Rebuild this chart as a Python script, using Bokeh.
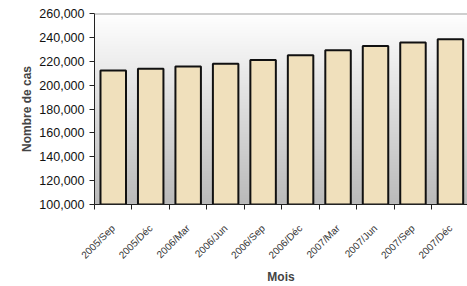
import numpy as np
from bokeh.plotting import figure
from bokeh.models import Range1d, FixedTicker, NumeralTickFormatter, ColumnDataSource, Span
from bokeh.embed import file_html
from bokeh.resources import INLINE

months = ["2005/Sep", "2005/Déc", "2006/Mar", "2006/Jun", "2006/Sep",
          "2006/Déc", "2007/Mar", "2007/Jun", "2007/Sep", "2007/Déc"]
cases = [212300, 213700, 215600, 218000, 221000,
         225000, 229300, 232800, 235800, 238400]
y_ticks = [100000, 120000, 140000, 160000, 180000, 200000, 220000, 240000, 260000]

y_min, y_max = 100000, 260000
n = len(months)
xpos = [i + 0.5 for i in range(n)]

p = figure(width=467, height=286, output_backend="svg", toolbar_location=None,
           x_range=Range1d(0, n - 0.045), y_range=Range1d(y_min, y_max),
           min_border_left=94, min_border_top=13, min_border_right=0, min_border_bottom=74)
p.outline_line_color = None
p.background_fill_color = "white"
p.border_fill_color = "white"
p.xgrid.visible = False
p.ygrid.visible = False

# vertical gradient background (white -> grey)
H = 200
t = np.linspace(0, 1, H)[:, None]  # bottom row first
top = np.array([255, 255, 255])
bot = np.array([186, 186, 186])
cols = (bot + (top - bot) * t).astype(np.uint32)
img = np.empty((H, 1), dtype=np.uint32)
view = img.view(dtype=np.uint8).reshape((H, 1, 4))
view[:, 0, 0] = cols[:, 0]
view[:, 0, 1] = cols[:, 1]
view[:, 0, 2] = cols[:, 2]
view[:, 0, 3] = 255
p.image_rgba(image=[img], x=0, y=y_min, dw=n, dh=y_max - y_min, level="image")

p.add_layout(Span(location=y_max, dimension="width", line_color="#a0a0a0", line_width=2))

src = ColumnDataSource(dict(x=xpos, top=cases))
p.vbar(x="x", top="top", bottom=y_min, width=0.68, source=src,
       fill_color="#f0e0bc", line_color="#111111", line_width=2)

# x axis
p.xaxis.ticker = FixedTicker(ticks=xpos, minor_ticks=list(range(0, n + 1)))
p.xaxis.major_label_overrides = {x: m for x, m in zip(xpos, months)}
p.xaxis.major_tick_line_color = None
p.xaxis.minor_tick_in = 0
p.xaxis.minor_tick_out = 5
p.xaxis.minor_tick_line_color = "#222222"
p.xaxis.axis_line_color = "#222222"
p.xaxis.axis_line_width = 1
p.xaxis.major_label_orientation = np.pi / 4
p.xaxis.major_label_text_font = "Liberation Sans"
p.xaxis.major_label_text_font_size = "10px"
p.xaxis.major_label_text_color = "#333333"
p.xaxis.major_label_standoff = 16
p.xaxis.axis_label = "Mois"
p.xaxis.axis_label_text_font = "Liberation Sans"
p.xaxis.axis_label_text_font_style = "bold"
p.xaxis.axis_label_text_font_size = "12px"
p.xaxis.axis_label_standoff = 2

# y axis
p.yaxis.ticker = FixedTicker(ticks=y_ticks, minor_ticks=[])
p.yaxis.formatter = NumeralTickFormatter(format="0,0")
p.yaxis.major_tick_in = 0
p.yaxis.major_tick_out = 5
p.yaxis.major_tick_line_color = "#222222"
p.yaxis.axis_line_color = "#222222"
p.yaxis.major_label_text_font = "Liberation Sans"
p.yaxis.major_label_text_font_size = "12.5px"
p.yaxis.major_label_text_color = "#111111"
p.yaxis.axis_label = "Nombre de cas"
p.yaxis.axis_label_text_font = "Liberation Sans"
p.yaxis.axis_label_text_font_style = "bold"
p.yaxis.axis_label_text_font_size = "12px"
p.yaxis.axis_label_standoff = 2

open("out.html", "w").write(file_html(p, INLINE))
